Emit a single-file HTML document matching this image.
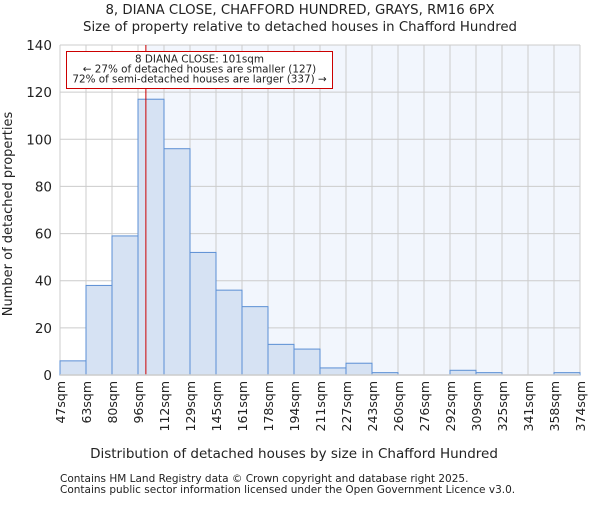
<!DOCTYPE html>
<html><head><meta charset="utf-8"><style>
body{margin:0;background:#fff;}
text{font-family:"DejaVu Sans","Liberation Sans",sans-serif;fill:#222;}
</style></head><body>
<svg width="600" height="500" viewBox="0 0 600 500">
<text x="300" y="14" text-anchor="middle" font-size="13.3">8, DIANA CLOSE, CHAFFORD HUNDRED, GRAYS, RM16 6PX</text>
<text x="300" y="31" text-anchor="middle" font-size="13.3">Size of property relative to detached houses in Chafford Hundred</text>
<g id="plot"></g>
<text x="294" y="458" text-anchor="middle" font-size="13.5">Distribution of detached houses by size in Chafford Hundred</text>
<text transform="translate(12,214) rotate(-90)" text-anchor="middle" font-size="13">Number of detached properties</text>
<text x="60" y="482" font-size="10.5">Contains HM Land Registry data © Crown copyright and database right 2025.</text>
<text x="60" y="493" font-size="10.5">Contains public sector information licensed under the Open Government Licence v3.0.</text>
</svg>
<script>
const categories=["47sqm","63sqm","80sqm","96sqm","112sqm","129sqm","145sqm","161sqm","178sqm","194sqm","211sqm","227sqm","243sqm","260sqm","276sqm","292sqm","309sqm","325sqm","341sqm","358sqm","374sqm"];
const counts=[6,38,59,117,96,52,36,29,13,11,3,5,1,0,0,2,1,0,0,1];
const yTicks=[0,20,40,60,80,100,120,140];
const propertySize=101;
const binStart=47, binStep=16.35;
const L=60,R=580,T=45,B=375,yMax=140;
const bw=(R-L)/counts.length;
const xIdx=i=>L+i*bw;
const xVal=v=>L+(v-binStart)/binStep*bw;
const y=v=>B-(v/yMax)*(B-T);
const NS="http://www.w3.org/2000/svg";
const g=document.getElementById('plot');
function el(t,a){const e=document.createElementNS(NS,t);for(const k in a)e.setAttribute(k,a[k]);g.appendChild(e);return e;}
const px=xVal(propertySize);
let e=el('rect',{x:px,y:T,width:R-px,height:B-T,fill:'#f2f6fd'});


yTicks.forEach(t=>{
 let l=el('line',{x1:L,x2:R,y1:y(t),y2:y(t),stroke:'#ccc','stroke-width':1});
 
 
 let tx=el('text',{x:L-8,y:y(t)+5,'text-anchor':'end','font-size':13.5});
 tx.textContent=t;
 
 
});
categories.forEach((c,i)=>{
 let l=el('line',{x1:xIdx(i),x2:xIdx(i),y1:T,y2:B,stroke:'#ccc','stroke-width':1});
 
 
 let tx=el('text',{transform:`translate(${xIdx(i)+5},381) rotate(-90)`,'text-anchor':'end','font-size':12.5});
 tx.textContent=c;
 
 
});
counts.forEach((v,i)=>{
 let r=el('rect',{x:xIdx(i),y:y(v),width:bw,height:B-y(v),fill:'#d6e2f3',stroke:'#5b8fd4','stroke-width':1});
 
 
});
e=el('line',{x1:px,x2:px,y1:T,y2:B,stroke:'#cc0000','stroke-width':1});


e=el('line',{x1:L,x2:R,y1:B,y2:B,stroke:'#ccc','stroke-width':1.5});


e=el('rect',{x:66.5,y:51.5,width:266,height:37,fill:'#fff',stroke:'#cc0000','stroke-width':1});


["8 DIANA CLOSE: 101sqm","← 27% of detached houses are smaller (127)","72% of semi-detached houses are larger (337) →"].forEach((s,i)=>{
 let tx=el('text',{x:199.5,y:62.5+i*10,'text-anchor':'middle','font-size':10.4});
 tx.textContent=s;
 
 
});
</script>
</body></html>
